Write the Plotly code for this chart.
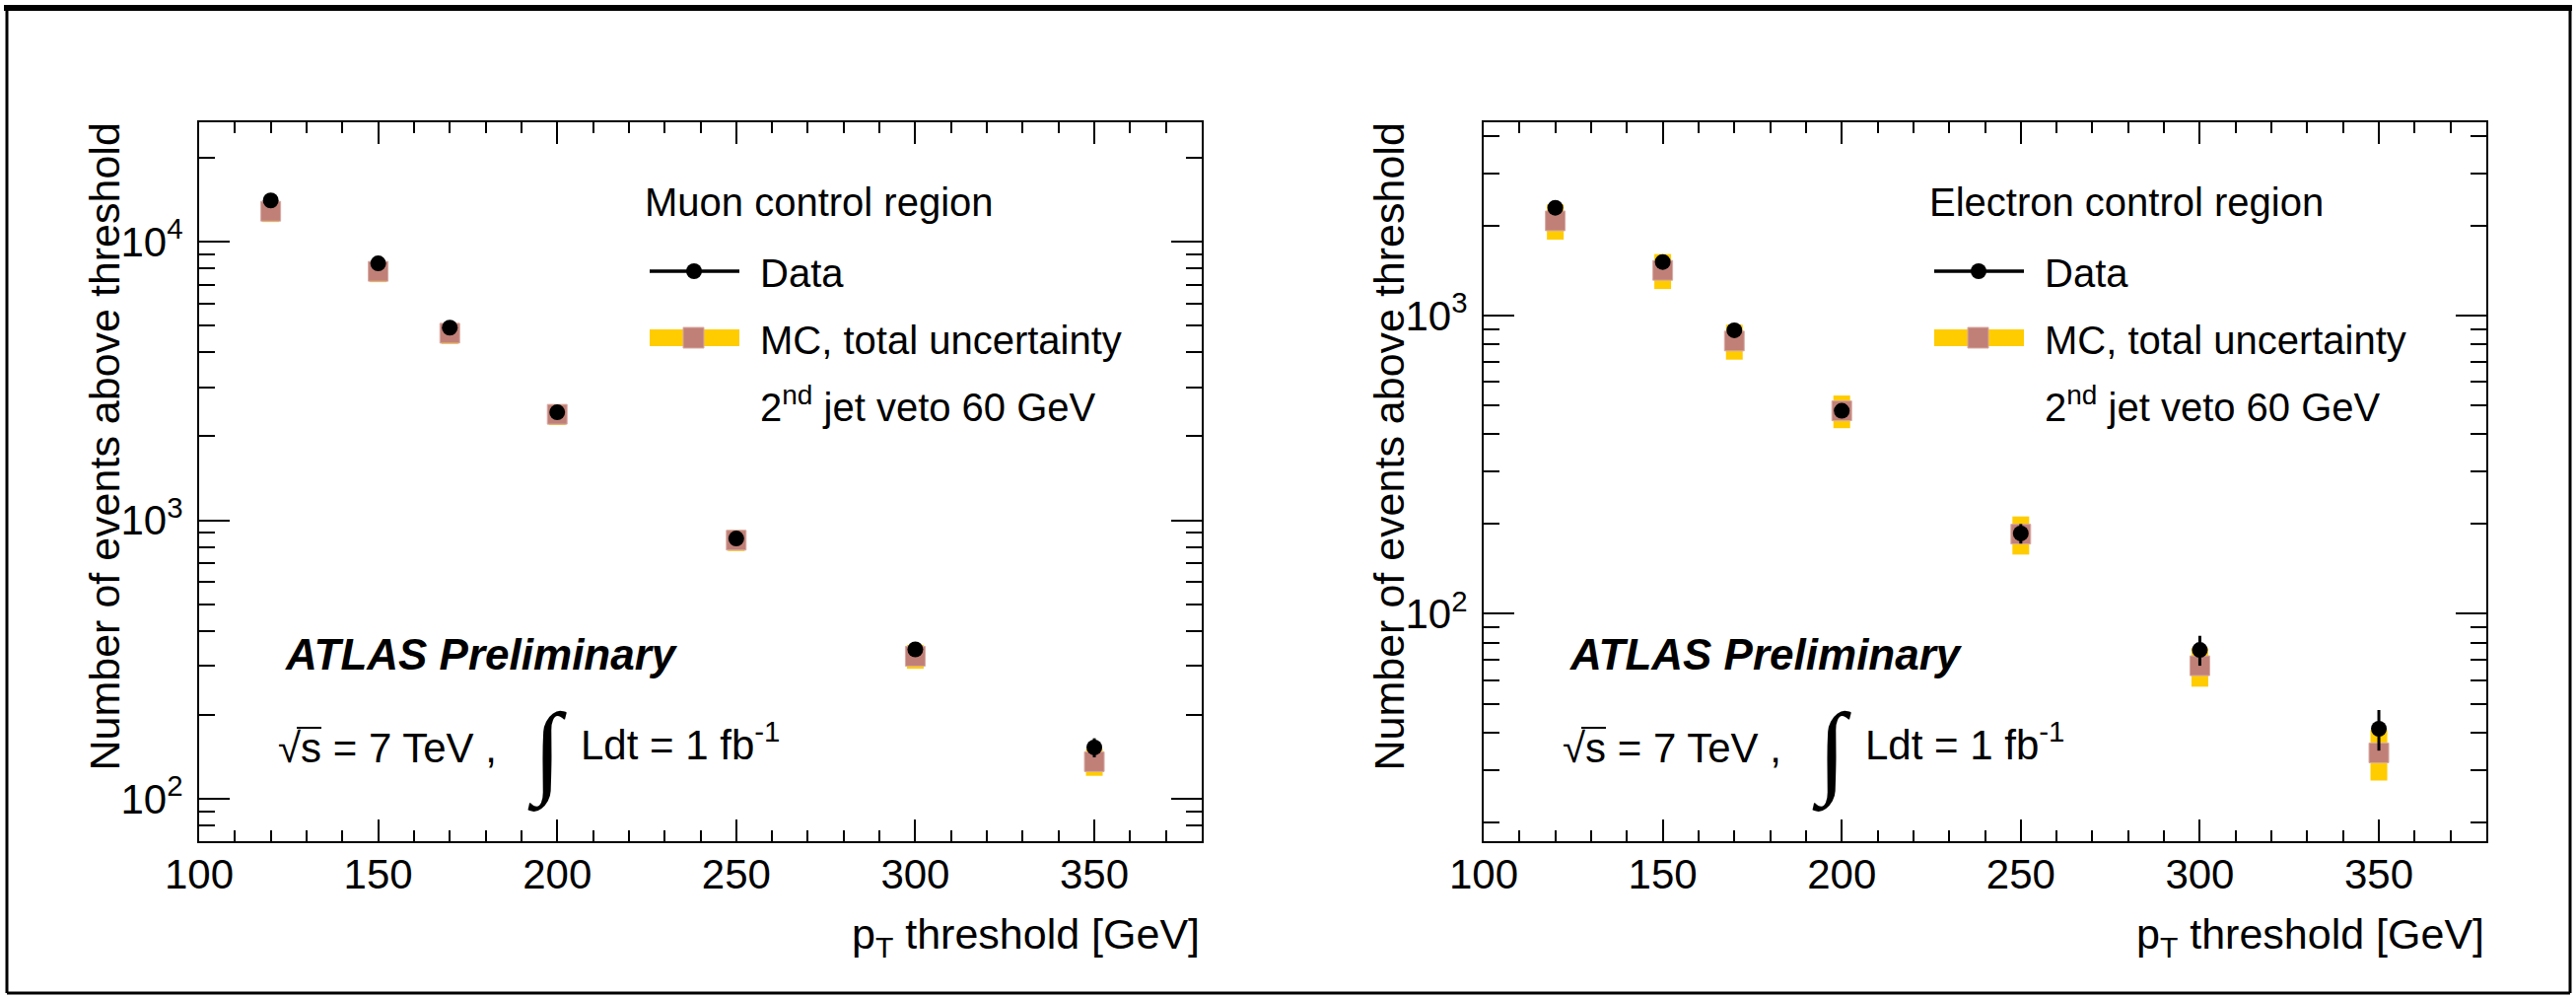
import math
import plotly.graph_objects as go

W, H = 2613, 1011
FONT = "Liberation Sans, Arial, Helvetica, sans-serif"

# ---------------- data ----------------
pt_thresholds = [120, 150, 170, 200, 250, 300, 350]

muon_data = [14050, 8350, 4910, 2440, 860, 344, 153]
muon_data_err = [119, 91, 70, 49, 29, 19, 12]
muon_mc = [12850, 7820, 4690, 2400, 848, 325, 136]
muon_mc_err = [1100, 670, 400, 205, 73, 32, 15]

elec_data = [2296, 1511, 892, 479, 186, 75.7, 41.2]
elec_data_err = [48, 39, 30, 22, 14, 8.7, 6.4]
elec_mc = [2075, 1416, 821, 479, 185, 67, 34.2]
elec_mc_err = [280, 190, 110, 60, 27, 10, 6.6]

region_labels = ["Muon control region", "Electron control region"]
y_ranges = [(70.5, 26800), (17.3, 4440)]
y_major = [[100, 1000, 10000], [100, 1000]]
y_major_text = [["10<sup>2</sup>", "10<sup>3</sup>", "10<sup>4</sup>"],
                ["10<sup>2</sup>", "10<sup>3</sup>"]]
x_range = [100, 380]

YELLOW = "#FFCC00"
MCCOL = "#C08078"


def PX(x):
    return x / W


def PY(y):
    return 1 - y / H


fig = go.Figure()

panels = [
    dict(data=muon_data, derr=muon_data_err, mc=muon_mc, merr=muon_mc_err, xa="x", ya="y", dx=0),
    dict(data=elec_data, derr=elec_data_err, mc=elec_mc, merr=elec_mc_err, xa="x2", ya="y2", dx=1303),
]

for p in panels:
    # yellow MC total-uncertainty boxes
    fig.add_trace(go.Scatter(
        x=pt_thresholds, y=p["mc"], mode="markers", xaxis=p["xa"], yaxis=p["ya"],
        marker=dict(size=1, opacity=0),
        error_y=dict(type="data", symmetric=False, array=p["merr"], arrayminus=p["merr"],
                     color=YELLOW, thickness=17, width=0),
        showlegend=False, hoverinfo="skip"))
    # MC central values
    fig.add_trace(go.Scatter(
        x=pt_thresholds, y=p["mc"], mode="markers", xaxis=p["xa"], yaxis=p["ya"],
        marker=dict(symbol="square", size=20, color=MCCOL, line=dict(color="#D9A9A3", width=1)),
        showlegend=False))
    # data
    fig.add_trace(go.Scatter(
        x=pt_thresholds, y=p["data"], mode="markers", xaxis=p["xa"], yaxis=p["ya"],
        marker=dict(symbol="circle", size=16, color="black"),
        error_y=dict(type="data", array=p["derr"], color="black", thickness=3, width=0),
        showlegend=False))

minor_y = [d * 10 ** e for e in range(0, 6) for d in range(2, 10)]

frames = [(202, 1219), (1505, 2522)]
axis_common = dict(showline=True, linewidth=2, linecolor="black", mirror="allticks",
                   ticks="inside", tickwidth=2, tickcolor="black", showgrid=False,
                   zeroline=False, automargin=False,
                   tickfont=dict(size=42, color="black", family=FONT))

layout_axes = {}
for i, (x0, x1) in enumerate(frames):
    sx = "" if i == 0 else "2"
    layout_axes["xaxis" + sx] = dict(
        axis_common, domain=[PX(x0), PX(x1)], range=x_range, anchor="y" + sx,
        tickmode="linear", tick0=100, dtick=50, ticklen=22, ticklabelstandoff=-4,
        minor=dict(ticks="inside", ticklen=11, tickwidth=2, tickcolor="black",
                   tickmode="linear", tick0=100, dtick=10, showgrid=False))
    lo, hi = y_ranges[i]
    layout_axes["yaxis" + sx] = dict(
        axis_common, domain=[PY(853), PY(124)], type="log",
        range=[math.log10(lo), math.log10(hi)], anchor="x" + sx,
        tickmode="array", tickvals=y_major[i], ticktext=y_major_text[i], ticklen=31,
        ticklabelstandoff=6,
        minor=dict(ticks="inside", ticklen=16, tickwidth=2, tickcolor="black",
                   tickmode="array", tickvals=minor_y, showgrid=False))

annotations = []
shapes = []


def txt(text, x, y, size, xanchor="left", yanchor="middle", angle=0, family=FONT):
    annotations.append(dict(text=text, x=PX(x), y=PY(y), xref="paper", yref="paper",
                            showarrow=False, xanchor=xanchor, yanchor=yanchor,
                            textangle=angle, font=dict(size=size, color="black", family=family)))


for i, p in enumerate(panels):
    dx = p["dx"]
    # legend block
    txt(region_labels[i], 652 + dx, 205, 40)
    shapes.append(dict(type="line", xref="paper", yref="paper",
                       x0=PX(659 + dx), x1=PX(750 + dx), y0=PY(275), y1=PY(275),
                       line=dict(color="black", width=3.5)))
    shapes.append(dict(type="circle", xref="paper", yref="paper",
                       x0=PX(696 + dx), x1=PX(712 + dx), y0=PY(283), y1=PY(267),
                       fillcolor="black", line=dict(color="black", width=0)))
    txt("Data", 769 + dx, 277, 40)
    shapes.append(dict(type="rect", xref="paper", yref="paper",
                       x0=PX(659 + dx), x1=PX(750 + dx), y0=PY(351), y1=PY(334),
                       fillcolor=YELLOW, line=dict(width=0)))
    shapes.append(dict(type="rect", xref="paper", yref="paper",
                       x0=PX(693 + dx), x1=PX(714 + dx), y0=PY(353), y1=PY(332),
                       fillcolor=MCCOL, line=dict(color="#D9A9A3", width=1)))
    txt("MC, total uncertainty", 769 + dx, 345, 40)
    txt("2<sup>nd</sup> jet veto 60 GeV", 769 + dx, 410, 40)

    # ATLAS label and luminosity
    txt("<b><i>ATLAS Preliminary</i></b>", 287 + dx, 663, 44)
    txt("√s = 7 TeV ,", 280 + dx, 758, 42)
    shapes.append(dict(type="line", xref="paper", yref="paper",
                       x0=PX(301 + dx), x1=PX(326 + dx), y0=PY(738), y1=PY(738),
                       line=dict(color="black", width=2)))
    txt("∫", 555 + dx, 762, 104, xanchor="center", family="Liberation Serif, DejaVu Serif")
    txt("Ldt = 1 fb<sup>-1</sup>", 587 + dx, 752, 42)

    # axis titles
    txt("Number of events above threshold", 105 + dx, 123, 43, xanchor="center",
        yanchor="top", angle=-90)
    txt("p<sub>T</sub> threshold [GeV]", 1219 + dx, 950, 43, xanchor="right")

# outer border
shapes.append(dict(type="line", xref="paper", yref="paper", x0=PX(4), x1=PX(2609),
                   y0=PY(8), y1=PY(8), line=dict(color="black", width=6)))
for (a0, b0, a1, b1) in [(7, 8, 7, 1007), (2607, 8, 2607, 1007), (7, 1007, 2607, 1007)]:
    shapes.append(dict(type="line", xref="paper", yref="paper", x0=PX(a0), x1=PX(a1),
                       y0=PY(b0), y1=PY(b1), line=dict(color="black", width=3)))

fig.update_layout(
    width=W, height=H, margin=dict(l=0, r=0, t=0, b=0, autoexpand=False),
    paper_bgcolor="white", plot_bgcolor="white",
    font=dict(family=FONT, color="black"),
    showlegend=False, annotations=annotations, shapes=shapes,
    **layout_axes)

fig.write_html("out.html")
